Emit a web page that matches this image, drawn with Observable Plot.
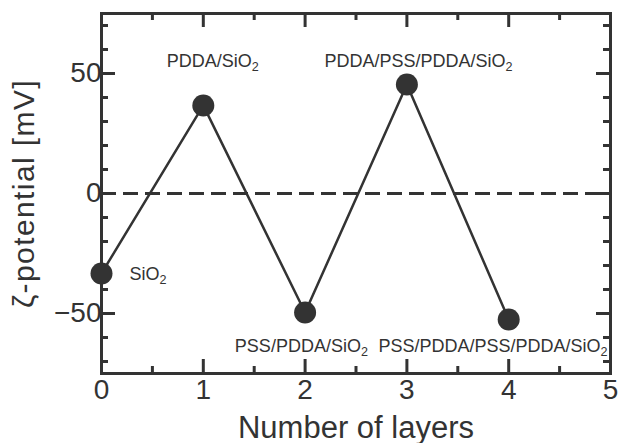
<!DOCTYPE html>
<html>
<head>
<meta charset="utf-8">
<script src="https://cdn.jsdelivr.net/npm/d3@7"></script>
<script src="https://cdn.jsdelivr.net/npm/@observablehq/plot@0.6"></script>
<style>
  html, body { margin: 0; padding: 0; background: #fff; }
  svg { display: block; }
</style>
</head>
<body>
<div id="chart"></div>
<script>
// Data
const layers = [0, 1, 2, 3, 4];
const zeta = [-33.3, 36.7, -49.6, 45.4, -52.5];

// Annotation labels (text and their position in data units)
const labelText = ["SiO2", "PDDA/SiO2", "PSS/PDDA/SiO2", "PDDA/PSS/PDDA/SiO2", "PSS/PDDA/PSS/PDDA/SiO2"];
const labelX = [0.275, 0.64, 1.31, 2.19, 2.72];
const labelY = [-33.8, 55, -63.7, 55, -63.7];

// Axis ticks
const xTickLabels = [0, 1, 2, 3, 4, 5];
const xMajor = [1, 2, 3, 4];
const xMinor = [0.5, 1.5, 2.5, 3.5, 4.5];
const yTickLabels = [-50, 0, 50];
const yMajor = [-50, 0, 50];
const yMinor = [-70, -60, -40, -30, -20, -10, 10, 20, 30, 40, 60, 70];

const xTitle = "Number of layers";
const yTitle = "ζ-potential [mV]";

const points = layers.map((x, i) => ({x, y: zeta[i]}));
const labels = labelText.map((t, i) => ({t, x: labelX[i], y: labelY[i]}));

const W = 618, H = 443, ML = 101, MR = 8, MT = 13, MB = 70;
const FW = W - ML - MR, FH = H - MT - MB;
const majorLen = 14, minorLen = 7;

const ink = "#333";
const font = "'Liberation Sans', Arial, sans-serif";
const tk = {stroke: ink, strokeWidth: 3, strokeLinecap: "butt"};

const chart = Plot.plot({
  width: W,
  height: H,
  marginLeft: ML,
  marginRight: MR,
  marginTop: MT,
  marginBottom: MB,
  style: {fontFamily: font, background: "#fff", color: ink},
  x: {domain: [0, 5]},
  y: {domain: [-75, 75]},
  marks: [
    Plot.axisX(xTickLabels, {tickSize: 0, tickPadding: 6, fontSize: 28, label: null, fill: ink}),
    Plot.axisY(yTickLabels, {tickSize: 0, tickPadding: 0, fontSize: 28, label: null, fill: ink,
      tickFormat: d => d < 0 ? "\u2212" + Math.abs(d) : String(d)}),
    Plot.ruleY([0], {stroke: ink, strokeWidth: 3, strokeDasharray: "15,7"}),
    // inward ticks on all four sides
    Plot.tickY(yMajor, {y: d => d, insetRight: FW - majorLen, ...tk}),
    Plot.tickY(yMinor, {y: d => d, insetRight: FW - minorLen, ...tk}),
    Plot.tickY(yMajor, {y: d => d, insetLeft: FW - majorLen, ...tk}),
    Plot.tickY(yMinor, {y: d => d, insetLeft: FW - minorLen, ...tk}),
    Plot.tickX(xMajor, {x: d => d, insetTop: FH - majorLen, ...tk}),
    Plot.tickX(xMinor, {x: d => d, insetTop: FH - minorLen, ...tk}),
    Plot.tickX(xMajor, {x: d => d, insetBottom: FH - majorLen, ...tk}),
    Plot.tickX(xMinor, {x: d => d, insetBottom: FH - minorLen, ...tk}),
    Plot.frame({stroke: ink, strokeWidth: 3}),
    Plot.line(points, {x: "x", y: "y", stroke: ink, strokeWidth: 2.5}),
    Plot.dot(points, {x: "x", y: "y", r: 11, fill: ink, stroke: "none"}),
    Plot.text(labels, {x: "x", y: "y", text: "t", textAnchor: "start", fontSize: 18, fill: ink}),
    Plot.text([xTitle], {frameAnchor: "bottom", textAnchor: "middle", dy: 64, fontSize: 31, fill: ink}),
    Plot.text([yTitle], {frameAnchor: "left", textAnchor: "middle", lineAnchor: "middle", rotate: -90, dx: -77, fontSize: 30, fill: ink})
  ]
});

chart.querySelectorAll("text").forEach(el => {
  const t = el.textContent;
  // render chemical subscripts (SiO2 -> SiO with a lowered small "2")
  if (el.children.length === 0 && t.endsWith("SiO2")) {
    el.textContent = t.slice(0, -1);
    const ts = document.createElementNS("http://www.w3.org/2000/svg", "tspan");
    ts.setAttribute("dy", "0.3em");
    ts.setAttribute("font-size", "0.7em");
    ts.textContent = "2";
    el.appendChild(ts);
  }
  if (t === yTitle) el.style.letterSpacing = "1.4px";
});

document.getElementById("chart").appendChild(chart);
</script>
</body>
</html>
